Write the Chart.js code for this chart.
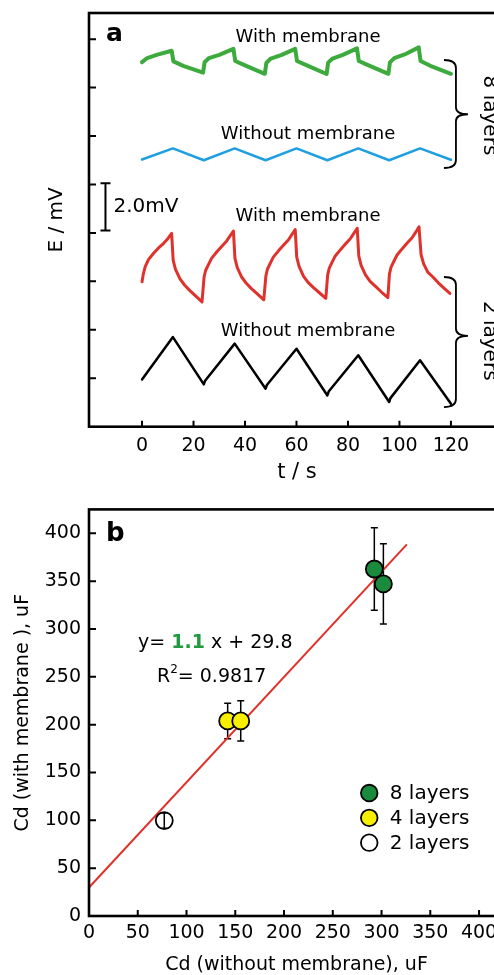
<!DOCTYPE html>
<html>
<head>
<meta charset="utf-8">
<script src="https://cdn.jsdelivr.net/npm/chart.js@4.4.1/dist/chart.umd.min.js"></script>
<style>
  html, body { margin: 0; padding: 0; background: #fff; width: 494px; height: 975px; overflow: hidden; }
  canvas { position: absolute; left: 0; }
  #chartA { top: 0; }
  #chartB { top: 490px; }
</style>
</head>
<body>
<canvas id="chartA" width="520" height="490"></canvas>
<canvas id="chartB" width="520" height="485"></canvas>
<script>
// ---- panel a: E (mV) vs t (s) ----
const tTicks = [0, 20, 40, 60, 80, 100, 120];
const eTicks = [2, 4, 6, 8, 10, 12, 14, 16];

// 8 layers, with membrane
const gT = [0, 2, 6, 11.5, 12.2, 16, 23.7, 24.3, 26, 30, 35.5, 36.2, 40, 47.7, 48.3, 50, 54, 59.5,
  60.2, 64, 71.7, 72.3, 74, 78, 83.5, 84.2, 88, 95.7, 96.3, 98, 102, 107.5, 108.2, 112, 120];
const gE = [15.05, 15.22, 15.36, 15.52, 15.08, 14.9, 14.62, 15.05, 15.22, 15.35, 15.6, 15.1, 14.92, 14.57, 15.02, 15.2, 15.34, 15.6,
  15.1, 14.92, 14.56, 15.03, 15.2, 15.35, 15.62, 15.1, 14.92, 14.57, 15.04, 15.22, 15.37, 15.66, 15.1, 14.9, 14.57];

// 8 layers, without membrane
const bT = [0, 12, 24, 36, 48, 60, 72, 84, 96, 108, 120];
const bE = [11.03, 11.49, 11.0, 11.49, 11.0, 11.49, 11.0, 11.49, 11.0, 11.49, 11.02];

// 2 layers, with membrane
const rT = [
  0, 0.5, 1.2, 2.5, 4.4, 6.3, 8.3, 10, 11.5,
  12.1, 13, 14.7, 16.5, 18.5, 21, 23.3,
  24.1, 24.7, 25.7, 27, 29, 31, 32.9, 34.2, 35.5,
  36.1, 37, 38.7, 40.5, 42.5, 45, 47.3,
  48.1, 48.7, 49.7, 51, 53, 55, 56.9, 58.2, 59.5,
  60.1, 61, 62.7, 64.5, 66.5, 69, 71.4,
  72.1, 72.7, 73.7, 75, 77, 79, 80.9, 82.2, 83.6,
  84.2, 85.1, 86.8, 88.6, 90.6, 93, 95.5,
  96.1, 96.7, 97.7, 99, 101, 103, 104.9, 106.2, 107.6,
  108.4, 109.4, 111, 113, 115, 117.5, 119.6];
const rE = [
  5.98, 6.3, 6.6, 6.9, 7.15, 7.37, 7.56, 7.76, 7.98,
  6.87, 6.5, 6.11, 5.85, 5.63, 5.38, 5.15,
  6.18, 6.45, 6.67, 6.95, 7.21, 7.45, 7.67, 7.88, 8.08,
  6.95, 6.57, 6.18, 5.92, 5.7, 5.46, 5.24,
  6.22, 6.5, 6.72, 7.0, 7.26, 7.5, 7.72, 7.93, 8.14,
  7.0, 6.62, 6.22, 5.96, 5.75, 5.52, 5.3,
  6.26, 6.54, 6.76, 7.04, 7.3, 7.54, 7.76, 7.97, 8.19,
  7.05, 6.66, 6.27, 6.0, 5.8, 5.56, 5.33,
  6.3, 6.58, 6.8, 7.08, 7.34, 7.58, 7.8, 8.01, 8.25,
  7.1, 6.72, 6.38, 6.18, 5.95, 5.7, 5.5];

// 2 layers, without membrane
const kT = [0, 12, 24, 24.5, 36, 48, 48.5, 60, 72, 72.5, 84, 96, 96.5, 108, 120];
const kE = [1.95, 3.7, 1.75, 1.9, 3.43, 1.57, 1.72, 3.22, 1.29, 1.45, 2.95, 1.02, 1.18, 2.74, 0.95];

// ---- panel b: Cd with vs without membrane (uF) ----
const cdTicks = [0, 50, 100, 150, 200, 250, 300, 350, 400];
const layerNames = ['8 layers', '4 layers', '2 layers'];
const cdWithout8 = [292.6, 301.9], cdWith8 = [362.7, 347.1], err8 = [43, 42];
const cdWithout4 = [142.2, 155.6], cdWith4 = [203.9, 203.9], err4 = [18.5, 21];
const cdWithout2 = [77.2], cdWith2 = [99.7], err2 = [8];
const fitX = [0, 326];
const fitY = [29.8, 388.4];
const fitSlope = '1.1', fitIntercept = '29.8', fitR2 = '0.9817';

Chart.defaults.font.family = "'DejaVu Sans', sans-serif";
Chart.defaults.color = '#000';

const FONT = "'DejaVu Sans', sans-serif";
const pts = (xs, ys) => xs.map((x, i) => ({ x, y: ys[i] }));

function trace(label, color, width, xs, ys) {
  return {
    label, data: pts(xs, ys), borderColor: color, borderWidth: width,
    pointRadius: 0, tension: 0, fill: false,
    borderJoinStyle: 'round', borderCapStyle: 'round'
  };
}

function drawFrame(chart) {
  const { ctx, chartArea: a } = chart;
  ctx.save();
  ctx.strokeStyle = '#000';
  ctx.lineWidth = 2.6;
  ctx.strokeRect(a.left, a.top, a.right - a.left, a.bottom - a.top);
  // inward tick marks
  ctx.lineWidth = 2;
  ctx.beginPath();
  chart.scales.x.ticks.forEach(t => {
    const px = chart.scales.x.getPixelForValue(t.value);
    ctx.moveTo(px, a.bottom);
    ctx.lineTo(px, a.bottom - 6);
  });
  chart.scales.y.ticks.forEach(t => {
    const py = chart.scales.y.getPixelForValue(t.value);
    ctx.moveTo(a.left, py);
    ctx.lineTo(a.left + 7, py);
  });
  ctx.stroke();
  ctx.restore();
}

function brace(ctx, x, yTop, yBot, yTip) {
  ctx.beginPath();
  ctx.moveTo(x - 12, yTop);
  ctx.quadraticCurveTo(x, yTop, x, yTop + 8);
  ctx.lineTo(x, yTip - 7);
  ctx.quadraticCurveTo(x, yTip, x + 12, yTip);
  ctx.quadraticCurveTo(x, yTip, x, yTip + 7);
  ctx.lineTo(x, yBot - 8);
  ctx.quadraticCurveTo(x, yBot, x - 12, yBot);
  ctx.stroke();
}

const panelA = {
  id: 'panelA',
  afterDraw(chart) {
    const { ctx, chartArea: a, scales: { x, y } } = chart;
    drawFrame(chart);
    ctx.save();
    ctx.fillStyle = '#000';
    ctx.strokeStyle = '#000';
    // panel letter
    ctx.font = 'bold 25px ' + FONT;
    ctx.textAlign = 'left';
    ctx.textBaseline = 'alphabetic';
    ctx.fillText('a', a.left + 17, a.top + 28);

    // trace labels
    ctx.font = '18px ' + FONT;
    ctx.textAlign = 'center';
    const cx = x.getPixelForValue(64.5);
    [['With membrane', 15.89], ['Without membrane', 11.86], ['With membrane', 8.5], ['Without membrane', 3.73]]
      .forEach(([txt, e]) => ctx.fillText(txt, cx, y.getPixelForValue(e)));

    // 2.0 mV scale bar
    const sx = x.getPixelForValue(-14.2);
    const y1 = y.getPixelForValue(10.05), y2 = y.getPixelForValue(8.1);
    ctx.lineWidth = 2;
    ctx.beginPath();
    ctx.moveTo(sx, y1); ctx.lineTo(sx, y2);
    ctx.moveTo(sx - 5, y1); ctx.lineTo(sx + 5, y1);
    ctx.moveTo(sx - 5, y2); ctx.lineTo(sx + 5, y2);
    ctx.stroke();
    ctx.font = '20px ' + FONT;
    ctx.textAlign = 'left';
    ctx.textBaseline = 'middle';
    ctx.fillText('2.0mV', sx + 8, (y1 + y2) / 2);

    // braces
    const bx = x.getPixelForValue(120) + 5;
    ctx.lineWidth = 1.8;
    brace(ctx, bx, y.getPixelForValue(15.14), y.getPixelForValue(10.68), y.getPixelForValue(12.9));
    brace(ctx, bx, y.getPixelForValue(6.18), y.getPixelForValue(0.81), y.getPixelForValue(3.75));
    ctx.font = '20px ' + FONT;
    ctx.textAlign = 'center';
    ctx.textBaseline = 'middle';
    [['8 layers', 12.85], ['2 layers', 3.55]].forEach(([txt, e]) => {
      ctx.save();
      ctx.translate(bx + 33, y.getPixelForValue(e));
      ctx.rotate(Math.PI / 2);
      ctx.fillText(txt, 0, 0);
      ctx.restore();
    });
    ctx.restore();
  }
};

new Chart(document.getElementById('chartA'), {
  type: 'line',
  data: {
    datasets: [
      trace('8 layers, with membrane', '#3caa3c', 4, gT, gE),
      trace('8 layers, without membrane', '#1f9ee0', 2.5, bT, bE),
      trace('2 layers, with membrane', '#e0322d', 3, rT, rE),
      trace('2 layers, without membrane', '#000000', 2.5, kT, kE)
    ]
  },
  options: {
    responsive: false,
    animation: false,
    layout: { padding: { top: 13, right: 15, left: 0, bottom: 0 } },
    plugins: { legend: { display: false }, tooltip: { enabled: false } },
    scales: {
      x: {
        type: 'linear', min: -20.6, max: 141,
        afterBuildTicks: s => { s.ticks = tTicks.map(v => ({ value: v })); },
        afterFit: s => { s.height = 63.3; },
        grid: { display: false, drawTicks: false },
        border: { display: false },
        ticks: { autoSkip: false, maxRotation: 0, padding: 7.5, font: { size: 19 }, color: '#000' },
        title: { display: true, text: 't / s', font: { size: 21, lineHeight: 1 }, padding: { top: 0, bottom: 6.5 }, color: '#000' }
      },
      y: {
        type: 'linear', min: 0, max: 17.08,
        afterBuildTicks: s => { s.ticks = eTicks.map(v => ({ value: v })); },
        afterFit: s => { s.width = 89; },
        grid: { display: false, drawTicks: false },
        border: { display: false },
        ticks: { display: false },
        title: { display: true, text: 'E / mV', font: { size: 20, lineHeight: 1 }, padding: { top: 47, bottom: 0 }, color: '#000' }
      }
    }
  },
  plugins: [panelA]
});

// ---- panel b ----
const layerColors = ['#1a8b3c', '#f7ee00', 'rgba(255,255,255,0)'];

const panelB = {
  id: 'panelB',
  beforeDatasetsDraw(chart) {
    const { ctx, scales: { y } } = chart;
    ctx.save();
    ctx.strokeStyle = '#000';
    ctx.lineWidth = 1.5;
    chart.data.datasets.forEach((ds, i) => {
      if (!ds.errY) return;
      chart.getDatasetMeta(i).data.forEach((pt, j) => {
        const v = ds.data[j].y;
        const top = y.getPixelForValue(v + ds.errY[j]);
        const bot = y.getPixelForValue(v - ds.errY[j]);
        ctx.beginPath();
        ctx.moveTo(pt.x, top); ctx.lineTo(pt.x, bot);
        ctx.moveTo(pt.x - 3.5, top); ctx.lineTo(pt.x + 3.5, top);
        ctx.moveTo(pt.x - 3.5, bot); ctx.lineTo(pt.x + 3.5, bot);
        ctx.stroke();
      });
    });
    ctx.restore();
  },
  afterDraw(chart) {
    const { ctx, chartArea: a, scales: { x, y } } = chart;
    drawFrame(chart);
    ctx.save();
    ctx.fillStyle = '#000';
    ctx.font = 'bold 26px ' + FONT;
    ctx.textAlign = 'left';
    ctx.textBaseline = 'alphabetic';
    ctx.fillText('b', a.left + 17, a.top + 31.6);

    // fit equation
    let ex = x.getPixelForValue(50.3);
    const ey = y.getPixelForValue(280.4);
    const parts = [['y= ', '#000', false], [fitSlope, '#1f9a3f', true], [' x + ' + fitIntercept, '#000', false]];
    parts.forEach(([txt, col, bold]) => {
      ctx.font = (bold ? 'bold ' : '') + '19px ' + FONT;
      ctx.fillStyle = col;
      ctx.fillText(txt, ex, ey);
      ex += ctx.measureText(txt).width;
    });
    ctx.fillStyle = '#000';
    let rx = x.getPixelForValue(69.7);
    const ry = y.getPixelForValue(245);
    ctx.font = '19px ' + FONT;
    ctx.fillText('R', rx, ry);
    rx += ctx.measureText('R').width;
    ctx.font = '12px ' + FONT;
    ctx.fillText('2', rx, ry - 9);
    rx += ctx.measureText('2').width;
    ctx.font = '19px ' + FONT;
    ctx.fillText('= ' + fitR2, rx, ry);

    // legend
    const lx = x.getPixelForValue(287.4);
    let ly = y.getPixelForValue(128.5);
    ctx.font = '20px ' + FONT;
    ctx.textBaseline = 'middle';
    chart.data.datasets.forEach(ds => {
      if (!ds.errY) return;
      ctx.beginPath();
      ctx.arc(lx, ly, 8.3, 0, Math.PI * 2);
      ctx.fillStyle = ds.backgroundColor;
      ctx.fill();
      ctx.lineWidth = 1.8;
      ctx.strokeStyle = '#000';
      ctx.stroke();
      ctx.fillStyle = '#000';
      ctx.fillText(ds.label, lx + 20.5, ly + 1);
      ly += 24.8;
    });
    ctx.restore();
  }
};

function layerSet(i, xs, ys, errs) {
  return {
    label: layerNames[i], data: pts(xs, ys), errY: errs,
    backgroundColor: layerColors[i], borderColor: '#000', borderWidth: 1.8,
    pointRadius: 8.5, pointHoverRadius: 8.5, showLine: false
  };
}

new Chart(document.getElementById('chartB'), {
  type: 'scatter',
  data: {
    datasets: [
      layerSet(0, cdWithout8, cdWith8, err8),
      layerSet(1, cdWithout4, cdWith4, err4),
      layerSet(2, cdWithout2, cdWith2, err2),
      {
        label: 'fit', data: pts(fitX, fitY), showLine: true, pointRadius: 0,
        borderColor: '#e0302a', borderWidth: 2, tension: 0
      }
    ]
  },
  options: {
    responsive: false,
    animation: false,
    layout: { padding: { top: 12.7, right: 16, left: 0, bottom: 0 } },
    plugins: { legend: { display: false }, tooltip: { enabled: false } },
    scales: {
      x: {
        type: 'linear', min: 0, max: 425.6,
        afterBuildTicks: s => { s.ticks = cdTicks.map(v => ({ value: v })); },
        afterFit: s => { s.height = 59; },
        grid: { display: false, drawTicks: false },
        border: { display: false },
        ticks: { autoSkip: false, maxRotation: 0, padding: 6, font: { size: 19 }, color: '#000' },
        title: { display: true, text: 'Cd (without membrane), uF', font: { size: 19, lineHeight: 1 }, padding: { top: 0, bottom: 0 }, color: '#000' }
      },
      y: {
        type: 'linear', min: 0, max: 425,
        afterBuildTicks: s => { s.ticks = cdTicks.map(v => ({ value: v })); },
        afterFit: s => { s.width = 89; },
        grid: { display: false, drawTicks: false },
        border: { display: false },
        ticks: { autoSkip: false, padding: 8, font: { size: 19 }, color: '#000' },
        title: { display: true, text: 'Cd (with membrane ), uF', font: { size: 19, lineHeight: 1 }, padding: { top: 14, bottom: 0 }, color: '#000' }
      }
    }
  },
  plugins: [panelB]
});
</script>
</body>
</html>
